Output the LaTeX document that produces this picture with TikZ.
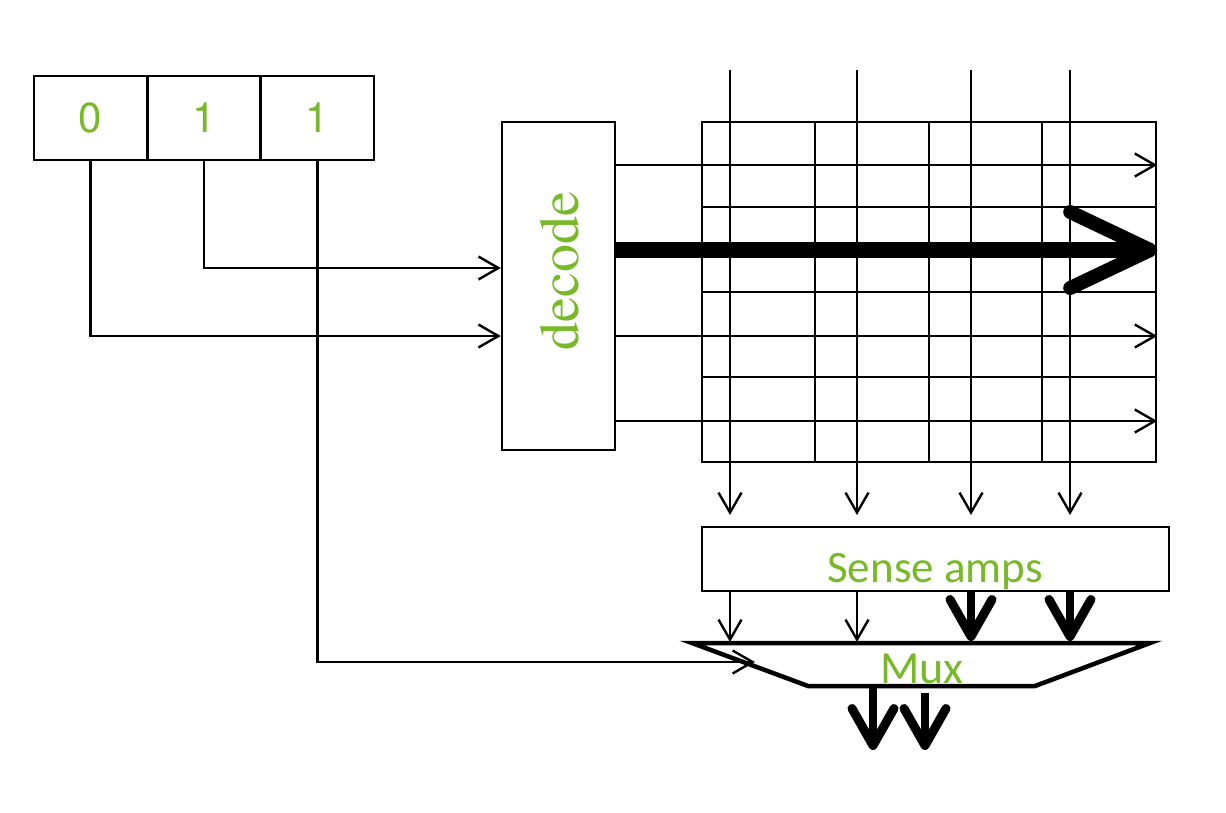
\documentclass[tikz,border=0pt]{standalone}
\usepackage{fontspec}
\newfontfamily\decodefont{texgyretermes-regular.otf}
\newfontfamily\digitfont{texgyreheros-regular.otf}
\newfontfamily\labelfont{Carlito}
\usetikzlibrary{arrows.meta}
\definecolor{labelgreen}{RGB}{120,185,40}

\begin{document}
\begin{tikzpicture}[x=1pt,y=-1pt,
  box/.style={draw,line width=2.4pt,inner sep=0pt},
  bitbox/.style={box,minimum width=113pt,minimum height=84pt,
    text=labelgreen,font=\digitfont\fontsize{42}{42}\selectfont},
  lbl/.style={text=labelgreen,inner sep=0pt},
  gridline/.style={line width=2.4pt},
  wire/.style={line width=2.4pt,-{Straight Barb[length=20pt,width=23pt]}},
  wordbus/.style={line width=16pt,
    -{Straight Barb[length=80pt,width=76pt,line width=14pt,round]}},
  bus/.style={line width=8pt,
    -{Straight Barb[length=37pt,width=42pt,line width=9pt,round]}},
  muxline/.style={line width=4.5pt,line join=miter}
]
\useasboundingbox (0,0) rectangle (1226,812);

% address register
\node[bitbox] (b0) at (90.5,118) {0};
\node[bitbox] (b1) at (204,118) {1};
\node[bitbox] (b2) at (317.5,118) {1};

% row decoder
\node[box,minimum width=113pt,minimum height=328pt] (dec) at (558.5,286) {};
\node[lbl,rotate=90,font=\decodefont\fontsize{56}{56}\selectfont] (declbl) at (560,271) {decode};

% memory array
\node[box,minimum width=454pt,minimum height=340pt] (array) at (929,292) {};
\foreach \x in {815,929,1042}
  \draw[gridline] (\x,122) -- (\x,462);
\foreach \y in {207,292,377}
  \draw[gridline] (702,\y) -- (1156,\y);

% sense amplifiers
\node[box,minimum width=467pt,minimum height=64pt] (sa) at (935.5,559) {};
\node[lbl,anchor=base,font=\labelfont\fontsize{45}{45}\selectfont] (salbl) at (935,582) {Sense amps};

% column multiplexer
\coordinate (mTL) at (692,643);
\coordinate (mTR) at (1150,643);
\coordinate (mBR) at (1035,686);
\coordinate (mBL) at (808,686);
\draw[muxline] (mTL) -- (mTR) -- (mBR) -- (mBL) -- cycle;
\node[lbl,anchor=base,font=\labelfont\fontsize{46}{46}\selectfont] (muxlbl) at (922,683) {Mux};

% address bits to decoder and mux
\draw[wire] (b0.south) |- (dec.west |- 0,336);
\draw[wire] (b1.south) |- (dec.west |- 0,268);
\coordinate (selin) at (755,662);
\draw[wire] (b2.south) |- (selin);

% word lines
\foreach \y in {165,336,421}
  \draw[wire] (dec.east |- 0,\y) -- (array.east |- 0,\y);
\draw[wordbus] (dec.east |- 0,250) -- (array.east |- 0,250);

% bit lines
\foreach \x in {730,857,971,1070} {
  \coordinate (bt\x) at (\x,70);
  \coordinate (bb\x) at (\x,515);
  \draw[wire] (bt\x) -- (bb\x);
}

% sense amp outputs into mux
\foreach \x in {730,857}
  \draw[wire] (sa.south -| \x,0) -- (\x,642);
\foreach \x in {971,1070}
  \draw[bus] (sa.south -| \x,0) -- (\x,641);

% mux outputs
\coordinate (o1) at (873,750);
\coordinate (o2) at (925,750);
\draw[bus] (mBL -| o1) -- (o1);
\draw[bus] (925,693) -- (o2);
\end{tikzpicture}
\end{document}
